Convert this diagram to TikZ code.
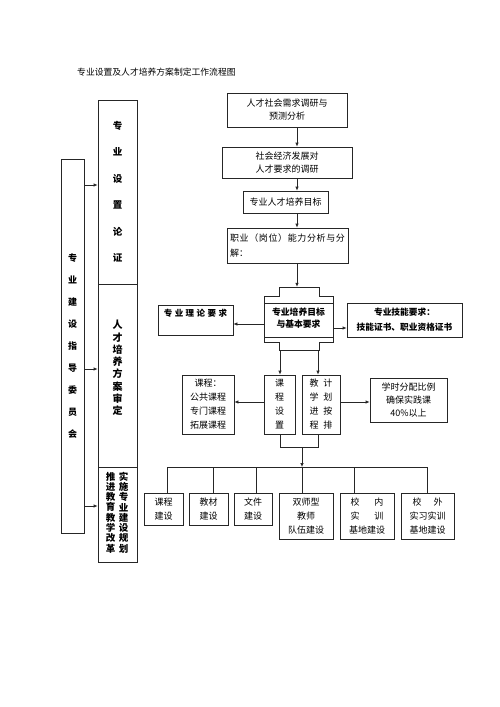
\documentclass[tikz,border=0pt]{standalone}
\usepackage{fontspec}
\setmainfont{Noto Sans CJK SC}
\usetikzlibrary{arrows.meta,calc}
\begin{document}
\begin{tikzpicture}[x=1pt,y=-1pt,
  bx/.style={draw=black!85, line width=0.7pt, inner sep=0pt, align=center, font=\fontsize{9}{14}\selectfont},
  txt/.style={inner sep=0pt, align=center, font=\fontsize{9}{14}\selectfont},
  arr/.style={draw=black!85, line width=0.7pt, -{Latex[length=4pt,width=3.5pt]}},
  ln/.style={draw=black!85, line width=0.7pt}]
\useasboundingbox (0,0) rectangle (500,707);
\fill[white] (0,0) rectangle (500,707);

% title
\node[txt, anchor=west, font=\fontsize{8.8}{10}\selectfont] (title) at (77,72) {专业设置及人才培养方案制定工作流程图};

% left columns
\node[bx, minimum width=23pt, minimum height=374pt, font=\bfseries\fontsize{9}{22}\selectfont] (outer) at (72.5,346) {专\\业\\建\\设\\指\\导\\委\\员\\会};
\node[bx, minimum width=39pt, minimum height=184pt, font=\bfseries\fontsize{9.5}{26.5}\selectfont] (m1) at (117.5,192) {专\\业\\设\\置\\论\\证};
\node[bx, minimum width=39pt, minimum height=183pt] (m2) at (117.5,375.5) {};
\node[txt, font=\bfseries\fontsize{10}{12.3}\selectfont] (m2t) at (117.5,368) {人\\才\\培\\养\\方\\案\\审\\定};
\node[bx, minimum width=39pt, minimum height=95pt] (m3) at (117.5,514.5) {};
\node[txt, font=\bfseries\fontsize{9.5}{10.3}\selectfont] (m3a) at (123.5,512.5) {实\\施\\专\\业\\建\\设\\规\\划};
\node[txt, font=\bfseries\fontsize{9.5}{10.3}\selectfont] (m3b) at (110.5,512.5) {推\\进\\教\\育\\教\\学\\改\\革};

\coordinate (ya) at (0,185);
\coordinate (yb) at (0,369);
\coordinate (yc) at (0,506);
\draw[arr] (outer.east |- ya) -- (m1.west |- ya);
\draw[arr] (outer.east |- yb) -- (m2.west |- yb);
\draw[arr] (outer.east |- yc) -- (m3.west |- yc);

% right flow
\node[bx, minimum width=120pt, minimum height=34pt, font=\fontsize{9}{13}\selectfont] (r1) at (287,110) {人才社会需求调研与\\预测分析};
\node[bx, minimum width=130pt, minimum height=31pt, font=\fontsize{9}{12.5}\selectfont] (r2) at (287,162.5) {社会经济发展对\\人才要求的调研};
\node[bx, minimum width=85pt, minimum height=22pt] (r3) at (285.5,202) {专业人才培养目标};
\node[bx, minimum width=121pt, minimum height=35pt, align=left, inner xsep=3pt, font=\fontsize{9}{15}\selectfont] (r4) at (287.5,245.5)
  {\makebox[115pt][s]{职\hfil 业\hfil （\hfil 岗\hfil 位\hfil ）\hfil 能\hfil 力\hfil 分\hfil 析\hfil 与\hfil 分}\\解：};

\coordinate (ax) at (297,0);
\draw[arr] (r1.south -| ax) -- (r2.north -| ax);
\draw[arr] (r2.south -| ax) -- (r3.north -| ax);
\draw[arr] (r3.south -| ax) -- (r4.north -| ax);

% cross shape
\node[txt, minimum width=69pt, minimum height=63pt, font=\bfseries\fontsize{8.8}{12}\selectfont] (core) at (298.5,318.5) {专业培养目标\\与基本要求};
\draw[ln] (279,287) -- (319,287) -- (319,296) -- (333,296) -- (333,342) -- (319,342) -- (319,350) -- (279,350) -- (279,342) -- (264,342) -- (264,296) -- (279,296) -- cycle;
\draw[ln] (264,303) -- (333,303) (264,337) -- (333,337);
\draw[arr] (r4.south -| ax) -- (core.north -| ax);

\node[bx, minimum width=75pt, minimum height=30pt, font=\bfseries\fontsize{8.5}{14}\selectfont] (L) at (195.5,320) {专\hspace{2.5pt}业\hspace{2.5pt}理\hspace{2.5pt}论\hspace{2.5pt}要\hspace{2.5pt}求\\\mbox{}};
\node[bx, minimum width=115pt, minimum height=34pt, font=\bfseries\fontsize{8.7}{15}\selectfont] (R) at (404.5,320) {专业技能要求：\\技能证书、职业资格证书};
\coordinate (yl) at (0,324);
\coordinate (yr) at (0,328);
\draw[arr] (core.west |- yl) -- (L.east |- yl);
\draw[arr] (core.east |- yr) -- (R.west |- yr);

% row 3
\node[bx, minimum width=52pt, minimum height=59pt] (C1) at (208,404.5) {课程：\\公共课程\\专门课程\\拓展课程};
\node[bx, minimum width=31pt, minimum height=59pt] (C2) at (279.5,404.5) {课\\程\\设\\置};
\node[bx, minimum width=38pt, minimum height=59pt] (C3) at (321,404.5) {教\hspace{5pt}计\\学\hspace{5pt}划\\进\hspace{5pt}按\\程\hspace{5pt}排};
\node[bx, minimum width=77pt, minimum height=44pt, font=\fontsize{9}{13}\selectfont] (C4) at (408.5,400) {学时分配比例\\确保实践课\\40\%以上};

\coordinate (x1) at (280,0);
\coordinate (x2) at (318,0);
\draw[arr] (core.south -| x1) -- (C2.north -| x1);
\draw[arr] (core.south -| x2) -- (C3.north -| x2);
\coordinate (y3) at (0,402);
\draw[arr] (C2.west |- y3) -- (C1.east |- y3);
\draw[arr] (C3.east |- y3) -- (C4.west |- y3);

% merge and bus
\coordinate (ym) at (0,447);
\coordinate (xc) at (302,0);
\coordinate (bus) at (302,467);
\draw[ln] (C2.south -| x1) -- (x1 |- ym) -- (x2 |- ym) -- (C3.south -| x2);
\draw[arr] (xc |- ym) -- (bus);

% bottom boxes
\node[bx, minimum width=39pt, minimum height=32pt] (B1) at (163.5,509) {课程\\建设};
\node[bx, minimum width=39pt, minimum height=32pt] (B2) at (208.5,509) {教材\\建设};
\node[bx, minimum width=38pt, minimum height=32pt] (B3) at (253,509) {文件\\建设};
\node[bx, minimum width=54pt, minimum height=46pt] (B4) at (306,516) {双师型\\教师\\队伍建设};
\node[bx, minimum width=54pt, minimum height=46pt] (B5) at (367,516) {校\hspace{15pt}内\\实\hspace{15pt}训\\基地建设};
\node[bx, minimum width=53pt, minimum height=46pt] (B6) at (427.5,516) {校\hspace{12pt}外\\实习实训\\基地建设};

\coordinate (d1) at (167,0);
\coordinate (d2) at (213,0);
\coordinate (d3) at (256,0);
\coordinate (d4) at (302,0);
\coordinate (d5) at (354,0);
\coordinate (d6) at (427,0);
\draw[ln] (d1 |- bus) -- (d6 |- bus);
\draw[ln] (d1 |- bus) -- (B1.north -| d1);
\draw[ln] (d2 |- bus) -- (B2.north -| d2);
\draw[ln] (d3 |- bus) -- (B3.north -| d3);
\draw[ln] (d4 |- bus) -- (B4.north -| d4);
\draw[ln] (d5 |- bus) -- (B5.north -| d5);
\draw[ln] (d6 |- bus) -- (B6.north -| d6);
\end{tikzpicture}
\end{document}
